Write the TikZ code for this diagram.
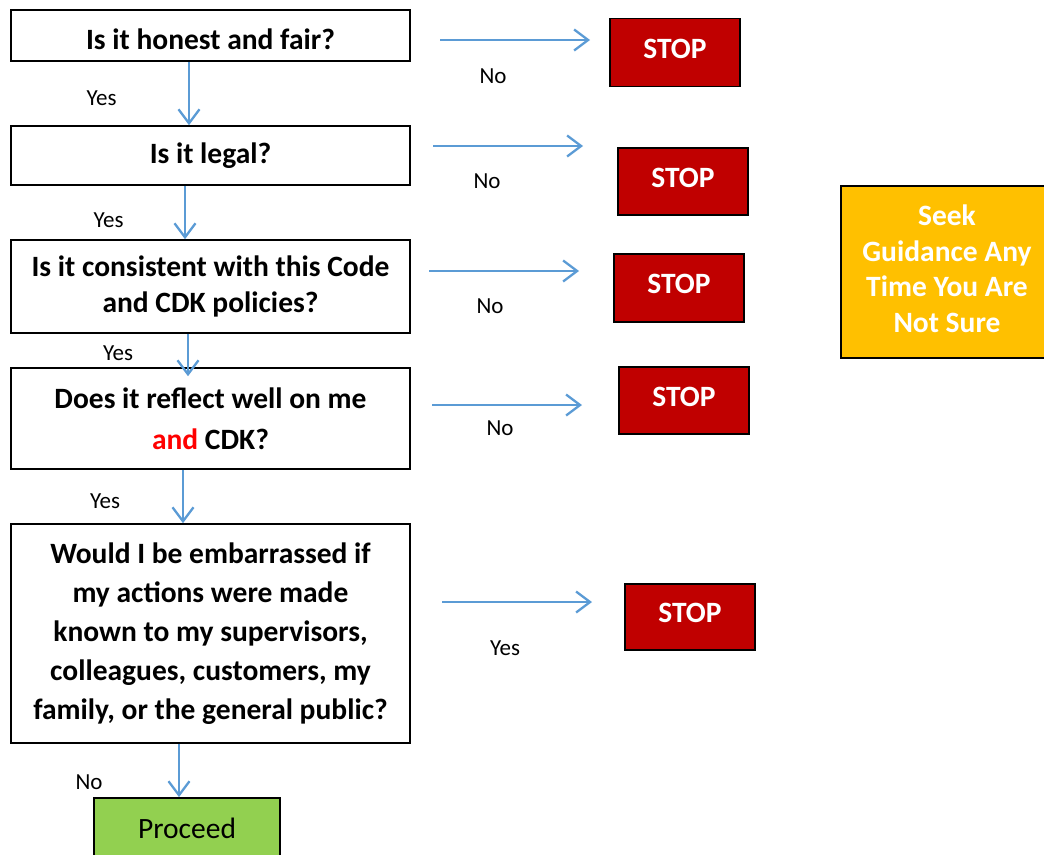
\documentclass[tikz,border=0pt]{standalone}
\usepackage{fontspec}
\setmainfont{Carlito}
\usetikzlibrary{arrows.meta}
\definecolor{flowblue}{HTML}{5B9BD5}
\definecolor{stopred}{HTML}{C00000}
\definecolor{seekgold}{HTML}{FFC000}
\definecolor{gogreen}{HTML}{92D050}
\begin{document}
\begin{tikzpicture}[x=1pt,y=-1pt,
	qbox/.style={draw=black, line width=1.6pt, fill=white, align=center, inner sep=2pt, minimum width=399pt, font=\fontsize{29.5}{37}\selectfont\bfseries},
	stopbox/.style={draw=black, line width=1.8pt, fill=stopred, text=white, text depth=8pt, minimum width=130pt, minimum height=68pt, font=\fontsize{29.5}{35}\selectfont\bfseries},
	flow/.style={draw=flowblue, line width=2.3pt, -{Straight Barb[length=14pt,width=21pt]}},
	lbl/.style={inner sep=0pt, font=\fontsize{23}{28}\selectfont}]
	\useasboundingbox (0,0) rectangle (1044,854);
	\node[qbox, minimum height=51pt, text height=28pt] (q1) at (210.5,35.5) {Is it honest and fair?};
	\node[qbox, minimum height=59pt] (q2) at (210.5,155.5) {Is it legal?};
	\node[qbox, minimum height=93pt, font=\fontsize{29.5}{36}\selectfont\bfseries] (q3) at (210.5,286.5) {Is it consistent with this Code\\and CDK policies?};
	\node[qbox, minimum height=101pt, font=\fontsize{29.5}{41}\selectfont\bfseries] (q4) at (210.5,418.5) {Does it reflect well on me\\{\color{red}and} CDK?};
	\node[qbox, minimum height=219pt, font=\fontsize{29.5}{39}\selectfont\bfseries] (q5) at (210.5,633.5) {Would I be embarrassed if\\my actions were made\\known to my supervisors,\\colleagues, customers, my\\family, or the general public?};
	\node[draw=black, line width=1.8pt, fill=gogreen, minimum width=186pt, minimum height=60pt, font=\fontsize{29.5}{35}\selectfont] (go) at (187,828) {Proceed};
	\node[stopbox] (s1) at (675,52.5) {STOP};
	\node[stopbox, minimum height=67pt] (s2) at (683,181.5) {STOP};
	\node[stopbox] (s3) at (679,288) {STOP};
	\node[stopbox, minimum height=67pt] (s4) at (684,400.5) {STOP};
	\node[stopbox, minimum height=66pt] (s5) at (690,617) {STOP};
	\node[draw=black, line width=1.8pt, fill=seekgold, text=white, align=center, text depth=7pt, minimum width=212pt, minimum height=172pt, font=\fontsize{29.5}{35.5}\selectfont\bfseries] (seek) at (947,272) {Seek\\Guidance Any\\Time You Are\\Not Sure};
	\draw[flow] ([xshift=-21.5pt]q1.south) -- ([xshift=-21.5pt]q2.north);
	\draw[flow] ([xshift=-25.5pt]q2.south) -- ([xshift=-25.5pt]q3.north);
	\draw[flow] ([xshift=-22.5pt]q3.south) -- ([xshift=-22.5pt,yshift=-9pt]q4.north);
	\draw[flow] ([xshift=-27.5pt]q4.south) -- ([xshift=-27.5pt]q5.north);
	\draw[flow] ([xshift=-31.5pt]q5.south) -- ([xshift=-31.5pt]q5.south |- go.north);
	\coordinate (n1a) at (440,40);
	\coordinate (n1b) at (590,40);
	\coordinate (n2a) at (433,146);
	\coordinate (n2b) at (583,146);
	\coordinate (n3a) at (429,271);
	\coordinate (n3b) at (579,271);
	\coordinate (n4a) at (432,405);
	\coordinate (n4b) at (582,405);
	\coordinate (n5a) at (442,602);
	\coordinate (n5b) at (592,602);
	\draw[flow] (n1a) -- (n1b);
	\draw[flow] (n2a) -- (n2b);
	\draw[flow] (n3a) -- (n3b);
	\draw[flow] (n4a) -- (n4b);
	\draw[flow] (n5a) -- (n5b);
	\node[lbl] (y1) at (101.5,98) {Yes};
	\node[lbl] (y2) at (108.5,220) {Yes};
	\node[lbl] (y3) at (118,353) {Yes};
	\node[lbl] (y4) at (105,501) {Yes};
	\node[lbl] (y5) at (89,782) {No};
	\node[lbl] (m1) at (493,76) {No};
	\node[lbl] (m2) at (487,181) {No};
	\node[lbl] (m3) at (490,306) {No};
	\node[lbl] (m4) at (500,428) {No};
	\node[lbl] (m5) at (505,648) {Yes};
\end{tikzpicture}
\end{document}
